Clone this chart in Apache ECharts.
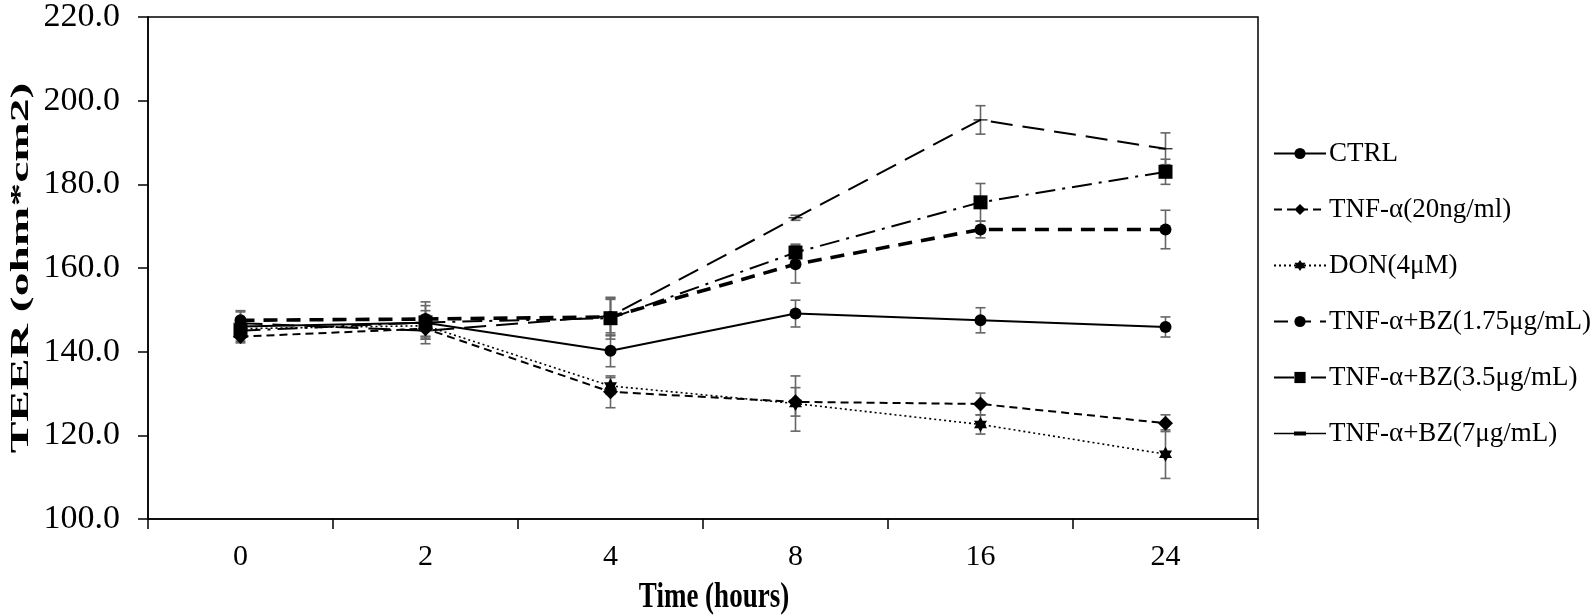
<!DOCTYPE html>
<html>
<head>
<meta charset="utf-8">
<script src="https://cdn.jsdelivr.net/npm/echarts@6/dist/echarts.min.js"></script>
<style>
html,body{margin:0;padding:0;background:#fff;}
#chart{width:1595px;height:616px;}
</style>
</head>
<body>
<div id="chart"></div>
<script>
const categories = ['0', '2', '4', '8', '16', '24'];
const seriesNames = ['CTRL', 'TNF-α(20ng/ml)', 'DON(4μM)', 'TNF-α+BZ(1.75μg/mL)', 'TNF-α+BZ(3.5μg/mL)', 'TNF-α+BZ(7μg/mL)'];
const ctrl      = [146.0, 146.9, 140.2, 149.1, 147.5, 145.9];
const tnf       = [143.6, 145.5, 130.4, 128.0, 127.5, 122.9];
const don       = [145.5, 146.2, 131.8, 127.6, 122.6, 115.5];
const bz175     = [147.5, 147.8, 148.3, 160.9, 169.2, 169.2];
const bz35      = [145.0, 147.0, 148.0, 163.7, 175.7, 183.0];
const bz7       = [146.8, 145.0, 148.5, 172.0, 195.4, 188.5];
const ctrlErr   = [2.0, 5.0, 3.8, 3.2, 3.0, 2.4];
const tnfErr    = [1.5, 2.0, 3.8, 3.4, 2.6, 2.0];
const donErr    = [2.0, 2.5, 2.0, 6.6, 2.3, 5.8];
const bz175Err  = [2.0, 2.0, 4.5, 4.5, 2.0, 4.6];
const bz35Err   = [2.5, 4.0, 5.0, 2.0, 4.5, 3.0];
const bz7Err    = [3.0, 2.0, 4.0, 0.6, 3.4, 3.8];
const yTicks = { min: 100, max: 220, interval: 20 };
const xTitle = 'Time (hours)';
const yTitle = 'TEER (ohm*cm2)';

const FONT = '"Liberation Serif", "Times New Roman", serif';
const values = [ctrl, tnf, don, bz175, bz35, bz7];
const errs = [ctrlErr, tnfErr, donErr, bz175Err, bz35Err, bz7Err];

const styles = [
  { line: { type: 'solid', width: 2 }, symbol: 'circle', size: 12 },
  { line: { type: [8, 5], width: 2 }, symbol: 'diamond', size: 15 },
  { line: { type: [2, 3], width: 1.6 }, symbol: 'path://M0,-10 L2.9,-5 L8.7,-5 L5.8,0 L8.7,5 L2.9,5 L0,10 L-2.9,5 L-8.7,5 L-5.8,0 L-8.7,-5 L-2.9,-5 Z', size: 15 },
  { line: { type: [14, 9], width: 3.6 }, symbol: 'circle', size: 12 },
  { line: { type: [20, 7, 3, 7], width: 2 }, symbol: 'rect', size: 14 },
  { line: { type: [22, 10], width: 2 }, symbol: 'path://M0,0 L14,0 L14,4 L0,4 Z', size: [14, 4],
    legendIcon: 'path://M0,6.2 L52,6.2 L52,7.8 L0,7.8 Z M20,5 L32,5 L32,9 L20,9 Z' }
];

const errData = [];
values.forEach((vals, s) => {
  vals.forEach((v, i) => errData.push([i, v - errs[s][i], v + errs[s][i]]));
});

const series = [{
  type: 'custom',
  name: 'err',
  silent: true,
  z: 1,
  data: errData,
  encode: { x: 0, y: [1, 2] },
  renderItem: function (params, api) {
    const x = api.coord([api.value(0), api.value(1)])[0];
    const lo = api.coord([api.value(0), api.value(1)])[1];
    const hi = api.coord([api.value(0), api.value(2)])[1];
    const w = 5;
    const st = { stroke: '#666', lineWidth: 1.6 };
    return {
      type: 'group',
      children: [
        { type: 'line', shape: { x1: x, y1: lo, x2: x, y2: hi }, style: st },
        { type: 'line', shape: { x1: x - w, y1: lo, x2: x + w, y2: lo }, style: st },
        { type: 'line', shape: { x1: x - w, y1: hi, x2: x + w, y2: hi }, style: st }
      ]
    };
  }
}];

seriesNames.forEach((name, s) => {
  series.push({
    type: 'line',
    name: name,
    data: values[s],
    z: 3,
    symbol: styles[s].symbol,
    symbolSize: styles[s].size,
    symbolKeepAspect: true,
    showAllSymbol: true,
    lineStyle: Object.assign({ color: '#000' }, styles[s].line),
    itemStyle: { color: '#000' },
    emphasis: { disabled: true },
    animation: false
  });
});

const legendData = seriesNames.map((n, s) => styles[s].legendIcon ? { name: n, icon: styles[s].legendIcon } : { name: n });

const chart = echarts.init(document.getElementById('chart'), null, { renderer: 'canvas' });
chart.setOption({
  animation: false,
  backgroundColor: '#fff',
  grid: {
    left: 148, right: 337, top: 12, bottom: 97,
    show: true, borderColor: '#000', borderWidth: 1.5, containLabel: false
  },
  legend: {
    data: legendData,
    orient: 'vertical',
    left: 1268,
    top: 135,
    itemWidth: 52,
    itemHeight: 14,
    itemGap: 29,
    textStyle: { fontFamily: FONT, fontSize: 27, color: '#000', padding: [0, 0, 0, -2] },
    selectedMode: false
  },
  graphic: [
    {
      type: 'text', x: 22, y: 268, rotation: Math.PI / 2, scaleX: 1.9,
      style: { text: yTitle, font: 'bold 25px ' + FONT, fill: '#000', align: 'center', verticalAlign: 'middle' }
    },
    {
      type: 'text', x: 714, y: 598, scaleY: 1.35,
      style: { text: xTitle, font: 'bold 27px ' + FONT, fill: '#000', align: 'center', verticalAlign: 'middle' }
    }
  ],
  xAxis: {
    type: 'category',
    data: categories,
    boundaryGap: true,
    axisLine: { lineStyle: { color: '#000', width: 1.5 } },
    axisTick: { show: true, length: 10, lineStyle: { color: '#000', width: 1.5 } },
    axisLabel: { fontFamily: FONT, fontSize: 30, color: '#000', margin: 23 },
    splitLine: { show: false }
  },
  yAxis: {
    type: 'value',
    min: yTicks.min, max: yTicks.max, interval: yTicks.interval,
    axisLine: { show: true, lineStyle: { color: '#000', width: 1.5 } },
    axisTick: { show: true, length: 10, lineStyle: { color: '#000', width: 1.5 } },
    axisLabel: { fontFamily: FONT, fontSize: 34, color: '#000', margin: 28, formatter: v => v.toFixed(1) },
    splitLine: { show: false }
  },
  series: series
});
</script>
</body>
</html>
